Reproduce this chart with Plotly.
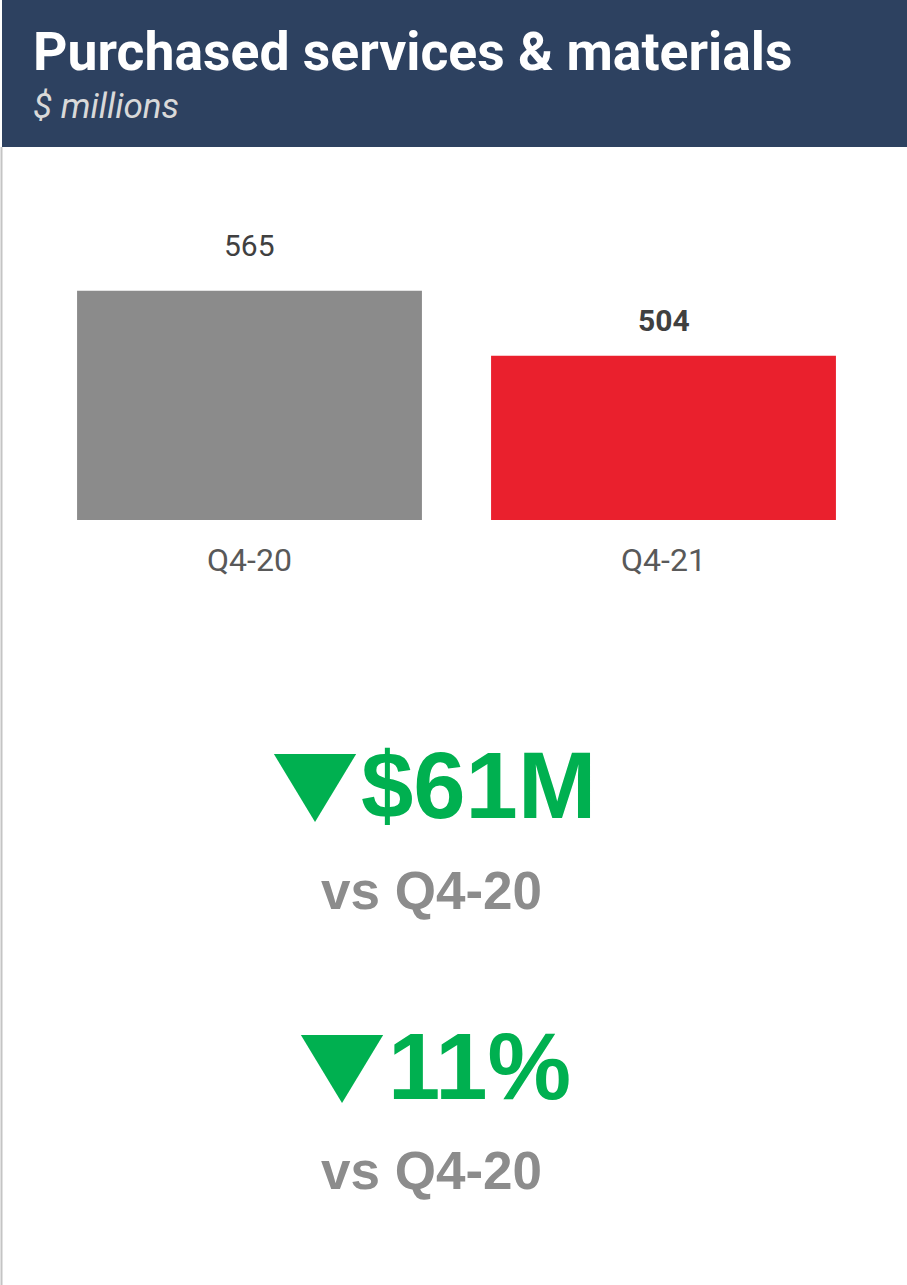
import plotly.graph_objects as go

# ---- data ----
categories = ["Q4-20", "Q4-21"]
values = [565, 504]
bar_colors = ["#8b8b8b", "#ea202d"]
title_text = "Purchased services & materials"
subtitle_text = "$ millions"
compare_label = "vs Q4-20"

W, H = 907, 1285

def px(x):
    return x / W

def py(y):
    return 1 - y / H

change = values[0] - values[1]
pct = round(change / values[0] * 100)

fig = go.Figure()
fig.add_trace(go.Bar(
    x=categories, y=values,
    marker=dict(color=bar_colors, line=dict(width=0)),
    hoverinfo="skip", showlegend=False,
))

# value labels above bars
label_weight = ["normal", "bold"]
label_shift = [26, 16]
for c, v, w, s in zip(categories, values, label_weight, label_shift):
    fig.add_annotation(
        x=c, y=v, xref="x", yref="y", text=str(v), showarrow=False,
        yanchor="bottom", yshift=s,
        font=dict(family="Roboto", size=30, color="#404040", weight=w),
    )

shapes = [
    # header band
    dict(type="rect", xref="paper", yref="paper", x0=px(2), x1=1, y0=py(147), y1=1,
         fillcolor="#2d4160", line=dict(width=0), layer="below"),
    # left border
    dict(type="line", xref="paper", yref="paper", x0=px(1.5), x1=px(1.5), y0=0, y1=py(147),
         line=dict(color="#c4c4c4", width=2)),
]

TRI = "<span style=\"font-family:'Inter';font-size:88px\">▼</span>"

ann = [
    dict(text=f"<b>{title_text}</b>", x=px(31), y=py(52), xref="paper", yref="paper",
         xanchor="left", yanchor="middle", showarrow=False,
         font=dict(family="Roboto", size=53.5, color="#ffffff")),
    dict(text=f"<i>{subtitle_text}</i>", x=px(31), y=py(106), xref="paper", yref="paper",
         xanchor="left", yanchor="middle", showarrow=False,
         font=dict(family="Roboto", size=35, color="#d9d9d9")),
    dict(text=f"<b>{TRI}${change}M</b>", x=px(432), y=py(786), xref="paper", yref="paper",
         xanchor="center", yanchor="middle", showarrow=False,
         font=dict(family="Liberation Sans, Arial", size=94, color="#00b050")),
    dict(text=f"<b>{compare_label}</b>", x=px(431), y=py(890), xref="paper", yref="paper",
         xanchor="center", yanchor="middle", showarrow=False,
         font=dict(family="Liberation Sans, Arial", size=53, color="#8c8c8c")),
    dict(text=f"<b>{TRI}{pct}%</b>", x=px(433), y=py(1067), xref="paper", yref="paper",
         xanchor="center", yanchor="middle", showarrow=False,
         font=dict(family="Liberation Sans, Arial", size=94, color="#00b050")),
    dict(text=f"<b>{compare_label}</b>", x=px(431), y=py(1170), xref="paper", yref="paper",
         xanchor="center", yanchor="middle", showarrow=False,
         font=dict(family="Liberation Sans, Arial", size=53, color="#8c8c8c")),
]
for a in ann:
    fig.add_annotation(**a)

fig.update_layout(
    width=W, height=H,
    margin=dict(l=0, r=0, t=0, b=0),
    paper_bgcolor="#ffffff", plot_bgcolor="#ffffff",
    bargap=0.167,
    shapes=shapes,
    xaxis=dict(domain=[px(42.5), px(870.5)], showgrid=False, zeroline=False, showline=False,
               ticks="", ticklabelstandoff=18, fixedrange=True,
               tickfont=dict(family="Roboto", size=32, color="#595959")),
    yaxis=dict(domain=[py(520), py(200)], range=[350, 650], visible=False, fixedrange=True),
)

fig.write_html("out.html", config={"displayModeBar": False},
               post_script="document.body.style.margin='0';document.body.style.overflow='hidden';")
